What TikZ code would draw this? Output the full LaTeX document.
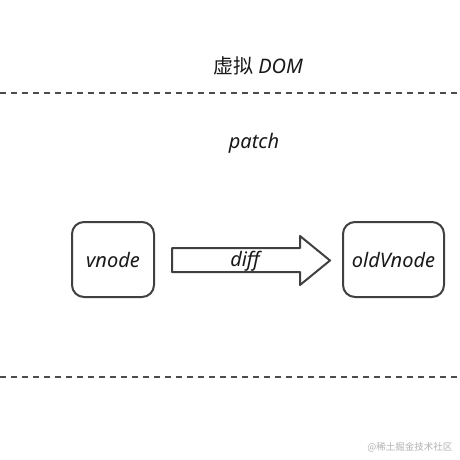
\documentclass[tikz,border=0pt]{standalone}
\usepackage{fontspec}
\setmainfont{Noto Sans}
\newfontfamily\cjk{Noto Sans CJK SC}
\begin{document}
\begin{tikzpicture}[x=1pt,y=-1pt,
  hand/.style={font=\itshape\fontsize{20}{24}\selectfont, text=black!90},
  boxnode/.style={draw=black!75, line width=2pt, rounded corners=12pt, hand},
  sep/.style={draw=black!70, line width=2.2pt, dash pattern=on 6pt off 5pt}]
\useasboundingbox (0,0) rectangle (460,460);
\fill[white] (0,0) rectangle (460,460);
\coordinate (l1a) at (0,93); \coordinate (l1b) at (460,93);
\coordinate (l2a) at (0,377); \coordinate (l2b) at (460,377);
\draw[sep] (l1a) -- (l1b);
\draw[sep] (l2a) -- (l2b);
\node[hand] (title) at (258,66) {{\cjk\upshape 虚拟} DOM};
\node[hand] (patch) at (254,143) {patch};
\node[boxnode, minimum width=82pt, minimum height=75pt] (v) at (113,259.5) {vnode};
\node[boxnode, minimum width=101pt, minimum height=75pt] (o) at (393.5,259.5) {oldVnode};
\draw[draw=black!75, line width=2pt, line join=round]
  (172,248) -- (300,248) -- (300,236) -- (330,260.5) -- (300,285) -- (300,272) -- (172,272) -- cycle;
\node[hand] (diff) at (245,261) {diff};
\node[text=black!30, font=\cjk\fontsize{9.5}{11}\selectfont, anchor=east] (wm) at (456,447) {@稀土掘金技术社区};
\end{tikzpicture}
\end{document}
